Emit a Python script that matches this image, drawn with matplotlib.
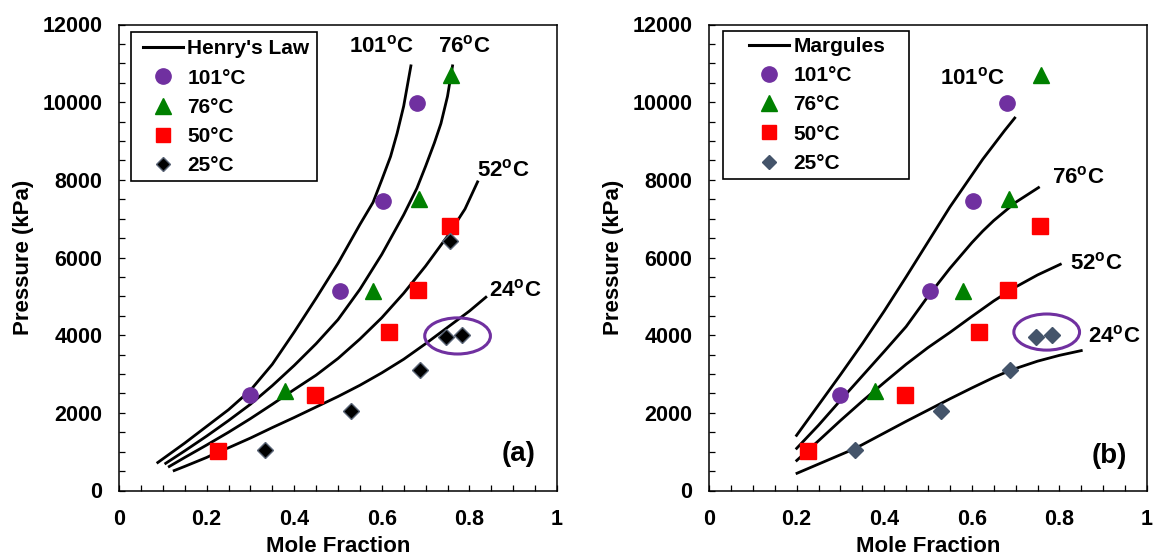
import matplotlib
matplotlib.use("Agg")
import matplotlib.pyplot as plt
from matplotlib.patches import Ellipse, Rectangle
from matplotlib.lines import Line2D
from matplotlib.ticker import MultipleLocator, FuncFormatter

plt.rcParams['font.family'] = ['Liberation Sans', 'DejaVu Sans']
plt.rcParams['font.weight'] = 'bold'
plt.rcParams['mathtext.default'] = 'regular'

# ---------------- measured data (kPa) ----------------
x_101 = [0.299, 0.505, 0.602, 0.681]
p_101 = [2460, 5140, 7460, 9970]
x_76 = [0.380, 0.581, 0.685, 0.758]
p_76 = [2560, 5140, 7510, 10690]
x_50 = [0.227, 0.447, 0.617, 0.682, 0.756]
p_50 = [1030, 2450, 4080, 5160, 6810]
x_25a = [0.333, 0.529, 0.687, 0.746, 0.783, 0.756]
p_25a = [1040, 2050, 3100, 3960, 4000, 6420]
x_25b = [0.333, 0.529, 0.687, 0.746, 0.783]
p_25b = [1040, 2050, 3100, 3960, 4000]

# Henry's law curves (panel a)
hx_101 = [0.086, 0.15, 0.20, 0.25, 0.30, 0.35, 0.40, 0.45, 0.50, 0.55, 0.58, 0.60, 0.62, 0.635, 0.65, 0.667]
hp_101 = [700, 1220, 1650, 2080, 2580, 3250, 4080, 4950, 5850, 6850, 7420, 8000, 8600, 9200, 9900, 10970]
hx_76 = [0.104, 0.15, 0.20, 0.25, 0.30, 0.35, 0.40, 0.45, 0.50, 0.55, 0.60, 0.65, 0.68, 0.70, 0.72, 0.735, 0.75, 0.762]
hp_76 = [680, 1020, 1400, 1800, 2220, 2700, 3220, 3780, 4400, 5180, 6080, 7100, 7780, 8350, 8950, 9450, 10150, 10970]
hx_52 = [0.112, 0.15, 0.20, 0.25, 0.30, 0.35, 0.40, 0.45, 0.50, 0.55, 0.60, 0.65, 0.70, 0.75, 0.79, 0.82]
hp_52 = [600, 850, 1170, 1500, 1850, 2220, 2600, 2970, 3400, 3900, 4450, 5080, 5780, 6550, 7250, 7980]
hx_24 = [0.123, 0.15, 0.20, 0.228, 0.25, 0.30, 0.35, 0.40, 0.45, 0.50, 0.55, 0.60, 0.65, 0.70, 0.75, 0.80, 0.84]
hp_24 = [500, 620, 850, 1000, 1100, 1350, 1620, 1880, 2150, 2420, 2710, 3030, 3380, 3780, 4200, 4620, 5000]

# Margules curves (panel b)
mx_101 = [0.198, 0.25, 0.30, 0.35, 0.40, 0.45, 0.50, 0.55, 0.60, 0.625, 0.65, 0.675, 0.70]
mp_101 = [1390, 2200, 2980, 3780, 4620, 5500, 6400, 7300, 8120, 8530, 8900, 9270, 9620]
mx_76 = [0.198, 0.25, 0.30, 0.35, 0.40, 0.45, 0.50, 0.55, 0.60, 0.625, 0.65, 0.70, 0.755]
mp_76 = [1060, 1680, 2320, 2950, 3580, 4220, 5000, 5720, 6380, 6680, 6950, 7420, 7820]
mx_52 = [0.198, 0.25, 0.30, 0.35, 0.40, 0.45, 0.50, 0.55, 0.60, 0.65, 0.70, 0.75, 0.805]
mp_52 = [750, 1280, 1800, 2300, 2780, 3250, 3680, 4070, 4480, 4880, 5240, 5550, 5840]
mx_24 = [0.198, 0.25, 0.30, 0.331, 0.35, 0.40, 0.45, 0.50, 0.55, 0.60, 0.65, 0.689, 0.75, 0.80, 0.853]
mp_24 = [430, 680, 920, 1070, 1180, 1480, 1780, 2070, 2360, 2640, 2910, 3100, 3330, 3480, 3610]

curve_labels = ['101$^{o}$C', '76$^{o}$C', '52$^{o}$C', '24$^{o}$C']
legend_labels = ['101°C', '76°C', '50°C', '25°C']

PURPLE = '#7030A0'
GREEN = '#008000'
RED = '#FF0000'
SLATE = '#44546A'

fig = plt.figure(figsize=(11.53, 5.58), dpi=100)
axa = fig.add_axes([119 / 1153, 67.5 / 558, 438 / 1153, 466 / 558])
axb = fig.add_axes([709 / 1153, 67.5 / 558, 438 / 1153, 466 / 558])

TICK_FS = 15.5
LAB_FS = 16


def style_axes(ax):
    ax.set_xlim(0, 1)
    ax.set_ylim(0, 12000)
    ax.xaxis.set_major_locator(MultipleLocator(0.2))
    ax.xaxis.set_minor_locator(MultipleLocator(0.05))
    ax.yaxis.set_major_locator(MultipleLocator(2000))
    ax.yaxis.set_minor_locator(MultipleLocator(500))
    ax.xaxis.set_major_formatter(FuncFormatter(lambda v, p: '%g' % round(v, 2)))
    ax.yaxis.set_major_formatter(FuncFormatter(lambda v, p: '%d' % v))
    ax.tick_params(which='both', direction='in', length=4, width=0.9,
                   top=False, right=False)
    ax.tick_params(axis='x', which='major', pad=13, labelsize=TICK_FS)
    ax.tick_params(axis='y', which='major', pad=12, labelsize=TICK_FS)
    for lab in ax.get_xticklabels() + ax.get_yticklabels():
        lab.set_fontweight('bold')
    for s in ax.spines.values():
        s.set_linewidth(1.1)
    ax.set_xlabel('Mole Fraction', fontsize=LAB_FS, fontweight='bold', labelpad=5)
    ax.set_ylabel('Pressure (kPa)', fontsize=LAB_FS, fontweight='bold', labelpad=6)


def markers(ax, x25, p25, dcol, dedge):
    ax.plot(x_101, p_101, 'o', color=PURPLE, ms=11, mec=PURPLE, zorder=3)
    ax.plot(x_76, p_76, '^', color=GREEN, ms=12, mec=GREEN, zorder=3)
    ax.plot(x_50, p_50, 's', color=RED, ms=11, mec=RED, zorder=3)
    ax.plot(x25, p25, 'D', color=dcol, ms=8, mec=dedge, mew=1.0, zorder=3)


def legend(ax, first, anchor, frame, dcol, dedge):
    handles = [Line2D([], [], color='black', lw=2.2),
               Line2D([], [], ls='none', marker='o', color=PURPLE, ms=11),
               Line2D([], [], ls='none', marker='^', color=GREEN, ms=11),
               Line2D([], [], ls='none', marker='s', color=RED, ms=10),
               Line2D([], [], ls='none', marker='D', color=dcol, mec=dedge, ms=7)]
    ax.add_patch(Rectangle(frame[:2], frame[2], frame[3], transform=ax.transAxes,
                           facecolor='white', edgecolor='black', lw=1.2, zorder=4))
    leg = ax.legend(handles, [first] + legend_labels, loc='upper left',
                    bbox_to_anchor=anchor, bbox_transform=ax.transAxes,
                    frameon=False, borderpad=0, borderaxespad=0,
                    handlelength=1.92, handletextpad=0.2, labelspacing=0.49,
                    prop={'size': 15, 'weight': 'bold'})
    leg.set_zorder(5)


# ---------------- panel (a) ----------------
ax = axa
style_axes(ax)
for cx, cp in [(hx_101, hp_101), (hx_76, hp_76), (hx_52, hp_52), (hx_24, hp_24)]:
    ax.plot(cx, cp, color='black', lw=2.0, zorder=2, solid_capstyle='butt',
            solid_joinstyle='round')
markers(ax, x_25a, p_25a, 'black', '#5a6577')
ax.add_patch(Ellipse((0.773, 3980), 0.150, 930, fill=False, ec=PURPLE, lw=2.2, zorder=3))
lab_pos_a = [(0.524, 11430), (0.729, 11430), (0.817, 8240), (0.845, 5160)]
for t, (lx, ly) in zip(curve_labels, lab_pos_a):
    ax.text(lx, ly, t, fontsize=16, fontweight='bold', ha='left', va='center')
ax.text(0.913, 930, '(a)', fontsize=20, fontweight='bold', ha='center', va='center')
legend(ax, "Henry's Law", (0.055, 0.968), (0.028, 0.665, 0.424, 0.318), 'black', '#5a6577')

# ---------------- panel (b) ----------------
ax = axb
style_axes(ax)
for cx, cp in [(mx_101, mp_101), (mx_76, mp_76), (mx_52, mp_52), (mx_24, mp_24)]:
    ax.plot(cx, cp, color='black', lw=2.0, zorder=2, solid_capstyle='butt',
            solid_joinstyle='round')
markers(ax, x_25b, p_25b, SLATE, SLATE)
ax.add_patch(Ellipse((0.771, 4080), 0.150, 930, fill=False, ec=PURPLE, lw=2.2, zorder=3))
lab_pos_b = [(0.527, 10620), (0.782, 8060), (0.825, 5850), (0.866, 3970)]
for t, (lx, ly) in zip(curve_labels, lab_pos_b):
    ax.text(lx, ly, t, fontsize=16, fontweight='bold', ha='left', va='center')
ax.text(0.913, 900, '(b)', fontsize=20, fontweight='bold', ha='center', va='center')
legend(ax, 'Margules', (0.092, 0.973), (0.031, 0.668, 0.425, 0.318), SLATE, SLATE)

fig.savefig('out.png', dpi=100)
